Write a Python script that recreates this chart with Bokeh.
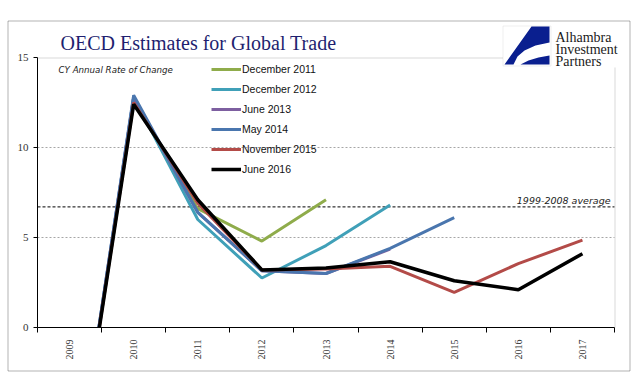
from bokeh.plotting import figure
from bokeh.models import (Range1d, FixedTicker, Label, Legend, LegendItem,
                          BoxAnnotation, PolyAnnotation, ColumnDataSource)
from bokeh.embed import file_html
from bokeh.resources import INLINE
import numpy as np

years = ["2009", "2010", "2011", "2012", "2013", "2014", "2015", "2016", "2017"]
nan = float("nan")
dec_2011 = [-10.8, 12.6, 6.6, 4.8, 7.1, nan, nan, nan, nan]
dec_2012 = [-10.8, 12.8, 6.0, 2.75, 4.55, 6.8, nan, nan, nan]
jun_2013 = [-10.8, 12.8, 6.4, 3.15, 3.0, 4.35, nan, nan, nan]
may_2014 = [-10.8, 12.9, 6.4, 3.15, 3.0, 4.4, 6.1, nan, nan]
nov_2015 = [-10.8, 12.5, 6.9, 3.2, 3.25, 3.4, 1.95, 3.55, 4.85]
jun_2016 = [-10.8, 12.4, 7.1, 3.2, 3.3, 3.65, 2.6, 2.1, 4.1]
series_names = ["December 2011", "December 2012", "June 2013", "May 2014",
                "November 2015", "June 2016"]
series_colors = ["#8FAC4B", "#40A0B8", "#7D5FA0", "#4A76AE", "#B34B48", "#000000"]
avg_1999_2008 = 6.7
y_ticks = [0, 5, 10, 15]
grid_vals = [5, 10]

# ---- geometry (image pixels -> canvas pixels)
W, H = 636, 376
OX, OY = 0, 0
def cx(px): return px - OX
def cy(py): return py - OY
f_left, f_right, f_top, f_bottom = cx(37), cx(614), cy(57), cy(327)
n = len(years)
ppx = (f_right - f_left) / n
x_start = -0.5 - f_left / ppx
x_end = n - 0.5 + (W - f_right) / ppx
ppy = (f_bottom - f_top) / 15.0
y_end = 15 + f_top / ppy
y_start = -(H - f_bottom) / ppy

x_idx = list(range(n))

p = figure(width=W, height=H, output_backend="svg", toolbar_location=None,
           x_range=Range1d(x_start, x_end), y_range=Range1d(y_start, y_end),
           min_border=0, min_border_left=0, min_border_right=0,
           min_border_top=0, min_border_bottom=0)
p.outline_line_color = None
p.background_fill_color = "white"
p.border_fill_color = "white"
p.xgrid.visible = False
p.ygrid.visible = False

# axes at fixed locations
p.xaxis.fixed_location = 0
p.xaxis.bounds = (-0.5, n - 0.5)
p.xaxis.ticker = FixedTicker(ticks=x_idx,
                             minor_ticks=[i - 0.5 for i in range(n + 1)])
p.xaxis.major_label_overrides = {i: y for i, y in enumerate(years)}
p.xaxis.major_label_orientation = np.pi / 2
p.xaxis.major_tick_out = 0
p.xaxis.major_tick_in = 0
p.xaxis.minor_tick_out = 5
p.xaxis.minor_tick_in = 0
p.xaxis.minor_tick_line_color = "black"
p.xaxis.major_label_standoff = 7
p.xaxis.major_label_text_font = "Liberation Serif"
p.xaxis.major_label_text_font_size = "10px"
p.xaxis.major_label_text_color = "#333333"
p.xaxis.axis_line_color = "black"

p.yaxis.fixed_location = -0.5
p.yaxis.bounds = (0, 15)
p.yaxis.ticker = FixedTicker(ticks=y_ticks)
p.yaxis.major_tick_out = 4
p.yaxis.major_tick_in = 0
p.yaxis.minor_tick_line_color = None
p.yaxis.major_label_standoff = 5
p.yaxis.major_label_text_font = "Liberation Serif"
p.yaxis.major_label_text_font_size = "11px"
p.yaxis.major_label_text_color = "#333333"
p.yaxis.axis_line_color = "black"

# gridlines and average line (limited to the plot area)
p.segment(x0=[-0.5] * len(grid_vals), x1=[n - 0.5] * len(grid_vals),
          y0=grid_vals, y1=grid_vals, line_color="#A6A6A6", line_dash="2 2",
          line_width=1)
p.segment(x0=[-0.5], x1=[n - 0.5], y0=[avg_1999_2008], y1=[avg_1999_2008],
          line_color="black", line_dash="3 2", line_width=1)

# series
all_series = [dec_2011, dec_2012, jun_2013, may_2014, nov_2015, jun_2016]
items = []
for name, vals, col in zip(series_names, all_series, series_colors):
    src = ColumnDataSource(dict(x=x_idx, y=vals))
    lw = 3.5 if col == "#000000" else 3
    r = p.line("x", "y", source=src, line_color=col, line_width=lw)
    items.append(LegendItem(label=name, renderers=[r]))

# mask everything below the value axis minimum (plot area clips at 0)
p.quad(left=[x_start], right=[x_end], top=[0], bottom=[y_start],
       fill_color="white", line_color=None)

leg_top = cy(59)
legend = Legend(items=items, location=(cx(211), H - leg_top - 6 * 20),
                padding=0, margin=0, spacing=0, glyph_width=30, glyph_height=20,
                label_height=20, label_standoff=1, background_fill_alpha=0,
                border_line_color=None, label_text_font="Liberation Sans",
                label_text_font_size="10.5px", label_text_color="#111111")
p.add_layout(legend)

# outer border
p.add_layout(BoxAnnotation(left=cx(7) + 0.5, right=cx(629) + 0.5,
                           top=cy(20) + 0.5, bottom=cy(370) + 0.5,
                           left_units="canvas", right_units="canvas",
                           top_units="canvas", bottom_units="canvas",
                           fill_alpha=0, line_color="black", line_width=1))
# top and right frame lines
p.add_layout(PolyAnnotation(xs=[cx(37), cx(503)], ys=[cy(57) + 0.5, cy(57) + 0.5],
                            xs_units="canvas", ys_units="canvas", fill_alpha=0,
                            line_color="#7F7F7F", line_width=1))
p.add_layout(PolyAnnotation(xs=[cx(614) + 0.5, cx(614) + 0.5], ys=[cy(67), cy(327)],
                            xs_units="canvas", ys_units="canvas", fill_alpha=0,
                            line_color="#7F7F7F", line_width=1))
# logo
p.add_layout(BoxAnnotation(left=cx(502) + 0.5, right=cx(550) + 0.5,
                           top=cy(25) + 0.5, bottom=cy(65) + 0.5,
                           left_units="canvas", right_units="canvas",
                           top_units="canvas", bottom_units="canvas",
                           fill_color="white", fill_alpha=1, line_color="#C8C8C8",
                           line_width=1))
navy_a = [(531, 26), (549, 26), (549, 42), (535, 45), (524, 50), (517, 56),
          (513, 64), (504, 64)]
navy_b = [(520, 64), (549, 64), (549, 55), (538, 57), (528, 60)]
for poly in (navy_a, navy_b):
    p.add_layout(PolyAnnotation(xs=[cx(a) for a, b in poly],
                                ys=[cy(b) for a, b in poly],
                                xs_units="canvas", ys_units="canvas",
                                fill_color="#0A1F8F", fill_alpha=1, line_color=None))
for txt, yb in [("Alhambra", 37), ("Investment", 49), ("Partners", 61)]:
    p.add_layout(Label(x=cx(555), y=cy(yb), x_units="canvas", y_units="canvas",
                       text=txt, text_font="Liberation Serif",
                       text_font_size="14px", text_color="#1a1a1a",
                       text_baseline="alphabetic"))

# title and notes
p.add_layout(Label(x=cx(60), y=cy(42), x_units="canvas", y_units="canvas",
                   text="OECD Estimates for Global Trade",
                   text_font="Liberation Serif", text_font_size="20px",
                   text_color="#1F1F70", text_baseline="alphabetic"))
p.add_layout(Label(x=cx(58), y=cy(69), x_units="canvas", y_units="canvas",
                   text="CY Annual Rate of Change", text_font="DejaVu Sans",
                   text_font_style="italic", text_font_size="8.7px",
                   text_color="#222222", text_baseline="alphabetic"))
p.add_layout(Label(x=cx(610), y=cy(200), x_units="canvas", y_units="canvas",
                   text="1999-2008 average", text_font="DejaVu Sans",
                   text_font_style="italic", text_font_size="9.5px",
                   text_color="#222222", text_align="right",
                   text_baseline="alphabetic"))

open("out.html", "w").write(file_html(p, INLINE))
